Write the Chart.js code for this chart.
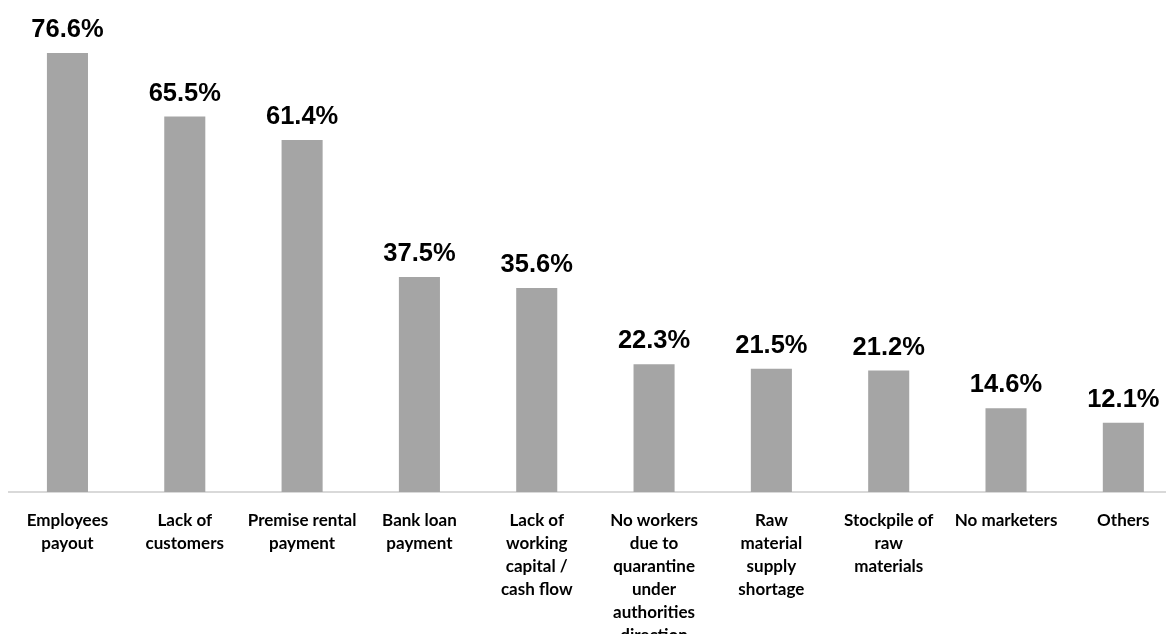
<!DOCTYPE html>
<html>
<head>
<meta charset="utf-8">
<script src="https://cdn.jsdelivr.net/npm/chart.js@4"></script>
<style>
  html, body { margin: 0; padding: 0; background: #fff; overflow: hidden; }
  #wrap { width: 1182px; height: 634px; }
</style>
</head>
<body>
<div id="wrap"><canvas id="myChart" width="1182" height="634"></canvas></div>
<script>
var categories = [
  ["Employees", "payout"],
  ["Lack of", "customers"],
  ["Premise rental", "payment"],
  ["Bank loan", "payment"],
  ["Lack of", "working", "capital /", "cash flow"],
  ["No workers", "due to", "quarantine", "under", "authorities", "direction"],
  ["Raw", "material", "supply", "shortage"],
  ["Stockpile of", "raw", "materials"],
  ["No marketers"],
  ["Others"],
];
var shares = [76.6, 65.5, 61.4, 37.5, 35.6, 22.3, 21.5, 21.2, 14.6, 12.1];

// value labels above each bar
var valueLabels = {
  id: "valueLabels",
  afterDatasetsDraw: function (chart) {
    var ctx = chart.ctx;
    var meta = chart.getDatasetMeta(0);
    ctx.save();
    ctx.font = "bold 25.5px 'Liberation Sans', Arial, sans-serif";
    ctx.fillStyle = "#000";
    ctx.textAlign = "center";
    ctx.textBaseline = "alphabetic";
    meta.data.forEach(function (bar, i) {
      ctx.fillText(shares[i].toFixed(1) + "%", bar.x, bar.y - 16);
    });
    ctx.restore();
  },
};

var ctx = document.getElementById("myChart").getContext("2d");
var newChart = new Chart(ctx, {
  type: "bar",
  data: {
    labels: categories,
    datasets: [
      {
        data: shares,
        backgroundColor: "#a5a5a5",
        borderWidth: 0,
        barPercentage: 0.7,
        categoryPercentage: 0.5,
      },
    ],
  },
  options: {
    responsive: false,
    animation: false,
    layout: { padding: { left: 8.8, top: 0, right: 0, bottom: 0 } },
    plugins: {
      legend: { display: false },
      tooltip: { enabled: false },
    },
    scales: {
      x: {
        grid: { display: false },
        border: { display: true, color: "#d9d9d9", width: 2 },
        ticks: {
          autoSkip: false,
          maxRotation: 0,
          minRotation: 0,
          padding: 9,
          color: "#000",
          font: { family: "Lato, 'Open Sans', sans-serif", weight: "bold", size: 17, lineHeight: 1.35 },
        },
        afterFit: function (scale) {
          scale.height = 142;
        },
      },
      y: {
        display: false,
        min: 0,
        max: 85.85,
      },
    },
  },
  plugins: [valueLabels],
});
</script>
</body>
</html>
